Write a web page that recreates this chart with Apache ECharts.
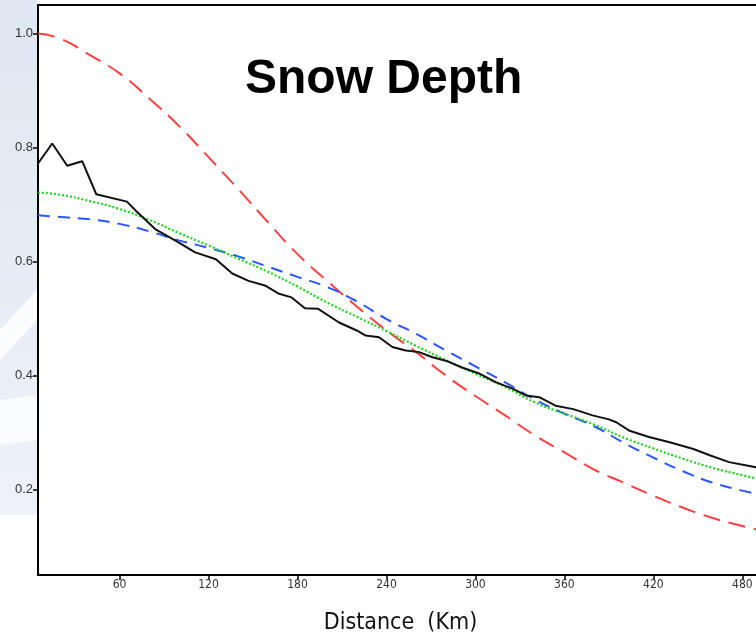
<!DOCTYPE html>
<html>
<head>
<meta charset="utf-8">
<title>Snow Depth</title>
<script src="https://cdn.jsdelivr.net/npm/echarts@6/dist/echarts.min.js"></script>
<style>
  html, body { margin: 0; padding: 0; background: #fff; }
  #chart { width: 756px; height: 637px; }
</style>
</head>
<body>
<div id="chart"></div>
<script>
// distance (km) of the observed profile
const obsDist = [5, 14.6, 24.7, 34.8, 44.3, 65, 71, 84, 98, 111, 125, 136, 147, 158, 167, 176, 185, 194, 208, 220, 226, 235, 244, 253, 262, 271, 280, 291, 303, 314, 325, 334, 343, 354, 366, 379, 390, 395, 404, 417, 431, 447, 458, 471, 483, 489, 500];
const obsDepth = [0.772, 0.807, 0.768, 0.776, 0.718, 0.705, 0.689, 0.657, 0.636, 0.616, 0.604, 0.579, 0.566, 0.558, 0.544, 0.537, 0.518, 0.517, 0.493, 0.479, 0.470, 0.467, 0.450, 0.444, 0.441, 0.432, 0.426, 0.414, 0.403, 0.388, 0.377, 0.365, 0.362, 0.347, 0.341, 0.330, 0.323, 0.318, 0.303, 0.292, 0.283, 0.271, 0.260, 0.248, 0.242, 0.239, 0.234];

// distance (km) shared by the three fitted curves
const fitDist = [5, 20, 40, 60, 80, 100, 120, 140, 160, 180, 200, 220, 240, 260, 280, 300, 320, 340, 360, 380, 400, 420, 440, 460, 480, 500];
const redDepth = [1.0, 0.991, 0.962, 0.930, 0.886, 0.838, 0.783, 0.727, 0.669, 0.613, 0.566, 0.521, 0.479, 0.441, 0.400, 0.364, 0.330, 0.295, 0.265, 0.235, 0.212, 0.189, 0.168, 0.150, 0.136, 0.124];
const greenDepth = [0.721, 0.717, 0.706, 0.692, 0.673, 0.650, 0.628, 0.605, 0.582, 0.556, 0.528, 0.503, 0.478, 0.452, 0.427, 0.403, 0.380, 0.353, 0.333, 0.314, 0.291, 0.272, 0.254, 0.238, 0.225, 0.213];
const blueDepth = [0.681, 0.678, 0.674, 0.666, 0.653, 0.637, 0.624, 0.609, 0.591, 0.573, 0.555, 0.530, 0.499, 0.473, 0.444, 0.416, 0.388, 0.358, 0.333, 0.311, 0.282, 0.256, 0.232, 0.212, 0.198, 0.186];

// tick labels
const xTicks = [60, 120, 180, 240, 300, 360, 420, 480];
const yTicks = [0.2, 0.4, 0.6, 0.8, 1.0];

function pairs(xs, ys) {
  return xs.map((x, i) => [x, ys[i]]);
}

const chart = echarts.init(document.getElementById('chart'));

const option = {
  backgroundColor: '#ffffff',
  animation: false,
  graphic: [
    // slide background strip on the left
    {
      type: 'rect', z: -10, silent: true,
      shape: { x: 0, y: 0, width: 37, height: 515 },
      style: {
        fill: new echarts.graphic.LinearGradient(0, 0, 0, 1, [
          { offset: 0, color: '#dfe7f2' },
          { offset: 1, color: '#eef2f8' }
        ])
      }
    },
    {
      type: 'polygon', z: -9, silent: true,
      shape: { points: [[0, 330], [37, 290], [37, 320], [0, 360]] },
      style: { fill: 'rgba(255,255,255,0.8)' }
    },
    {
      type: 'polygon', z: -9, silent: true,
      shape: { points: [[0, 400], [37, 395], [37, 440], [0, 445]] },
      style: { fill: 'rgba(255,255,255,0.7)' }
    },
    {
      type: 'text', left: 245, top: 56, z: 100,
      style: {
        text: 'Snow Depth',
        fill: '#000',
        font: 'bold 48px "Liberation Sans", Arial, sans-serif'
      }
    }
  ],
  grid: {
    left: 38,
    top: 5,
    height: 570,
    width: 734,
    outerBoundsMode: 'none',
    show: true,
    borderColor: '#000',
    borderWidth: 2,
    backgroundColor: '#fff'
  },
  xAxis: {
    type: 'value',
    min: 5,
    max: 500,
    name: 'Distance  (Km)',
    nameLocation: 'middle',
    nameGap: 37,
    nameTextStyle: {
      color: '#111',
      fontSize: 23,
      padding: [0, 9, 0, 0],
      fontFamily: '"DejaVu Sans Condensed", "DejaVu Sans", sans-serif'
    },
    axisLine: { show: true, lineStyle: { color: '#000', width: 2 } },
    axisTick: { show: true, customValues: xTicks, length: 5, lineStyle: { color: '#000', width: 1.5 } },
    axisLabel: {
      customValues: xTicks,
      color: '#333',
      fontSize: 12,
      margin: 4,
      fontFamily: '"Liberation Sans Narrow", "DejaVu Sans Condensed", sans-serif'
    },
    splitLine: { show: false }
  },
  yAxis: {
    type: 'value',
    min: 0.05,
    max: 1.05,
    axisLine: { show: true, lineStyle: { color: '#000', width: 2 } },
    axisTick: { show: true, customValues: yTicks, length: 5, lineStyle: { color: '#000', width: 1.5 } },
    axisLabel: {
      customValues: yTicks,
      color: '#333',
      fontSize: 13,
      margin: 5,
      fontFamily: '"Liberation Sans", Arial, sans-serif',
      formatter: v => v.toFixed(1)
    },
    splitLine: { show: false }
  },
  series: [
    {
      name: 'red',
      type: 'line',
      data: pairs(fitDist, redDepth),
      smooth: true,
      showSymbol: false,
      lineStyle: { color: '#ff4040', width: 2, type: [17, 9] }
    },
    {
      name: 'blue',
      type: 'line',
      data: pairs(fitDist, blueDepth),
      smooth: true,
      showSymbol: false,
      lineStyle: { color: '#2a55ff', width: 2, type: [12, 8] }
    },
    {
      name: 'green',
      type: 'line',
      data: pairs(fitDist, greenDepth),
      smooth: true,
      showSymbol: false,
      lineStyle: { color: '#1ed41e', width: 2.2, type: [2, 2] }
    },
    {
      name: 'obs',
      type: 'line',
      data: pairs(obsDist, obsDepth),
      showSymbol: false,
      lineStyle: { color: '#111', width: 2 }
    }
  ]
};

chart.setOption(option);

window.addEventListener('resize', function() {
  chart.resize();
});
</script>
</body>
</html>
